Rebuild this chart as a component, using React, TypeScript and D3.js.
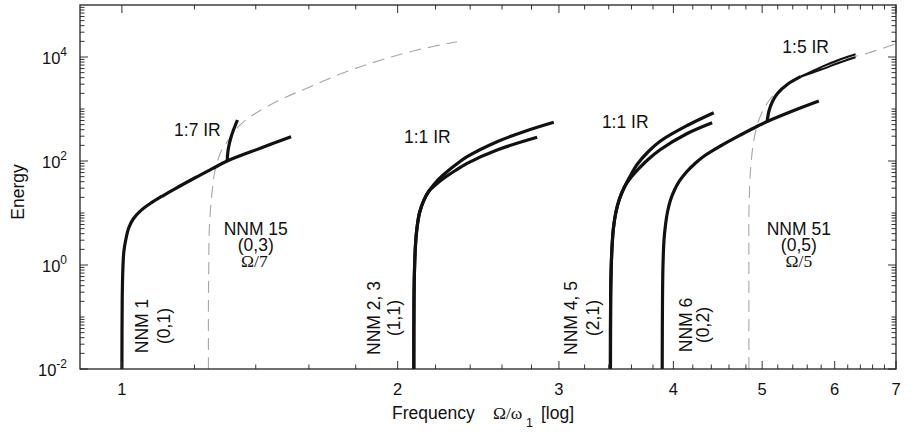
import React from 'react';
import * as d3 from 'd3';

type Pt = [number, number];

// ---- data (frequency Ω/ω1, energy) ----
const nnm1: Pt[] = [[1.0, 0.01], [1.00075, 0.212], [1.0023, 0.801], [1.0048, 1.778], [1.0096, 3.02], [1.0172, 5.15], [1.0288, 7.67], [1.0471, 10.9], [1.0737, 15.2], [1.1096, 21.7], [1.152, 31.6], [1.202, 47.7], [1.255, 71.1], [1.303, 100], [1.416, 176], [1.53, 293]];
const ir17: Pt[] = [[1.303, 100], [1.306, 163], [1.316, 293], [1.337, 614]];
const nnm15Dashed: Pt[] = [[1.243, 0.01], [1.243, 0.21], [1.244, 1], [1.246, 5.45], [1.254, 23.9], [1.264, 67], [1.285, 163], [1.307, 253], [1.34, 457], [1.381, 711], [1.44, 1107], [1.514, 1726], [1.606, 2685], [1.702, 4180], [1.821, 6506], [1.947, 9440], [2.1, 13630], [2.322, 19700]];
const nnm23Upper: Pt[] = [[2.0829, 0.01], [2.0839, 0.212], [2.0865, 0.801], [2.0917, 2.424], [2.0996, 5.146], [2.1128, 10], [2.1342, 17.0], [2.1639, 26.5], [2.2052, 40.3], [2.2557, 58.8], [2.3122, 83.8], [2.3816, 121], [2.5679, 235], [2.7459, 366], [2.961, 555]];
const nnm23Lower: Pt[] = [[2.0829, 0.01], [2.0839, 0.212], [2.0865, 0.801], [2.0917, 2.424], [2.0996, 5.146], [2.1128, 10], [2.1342, 17.0], [2.1639, 26.5], [2.2052, 36.1], [2.2557, 49.2], [2.3122, 65.7], [2.3816, 90.3], [2.5679, 163], [2.8401, 286]];
const nnm45Upper: Pt[] = [[3.4146, 0.01], [3.4163, 0.212], [3.4206, 0.801], [3.4292, 2.424], [3.4405, 5.146], [3.4622, 10.45], [3.4928, 18.6], [3.537, 31.6], [3.5909, 52.6], [3.6548, 87.6], [3.7478, 145.7], [3.8724, 242.4], [4.1413, 481.6], [4.4272, 848.8]];
const nnm45Lower: Pt[] = [[3.4146, 0.01], [3.4163, 0.212], [3.4206, 0.801], [3.4292, 2.424], [3.4405, 5.146], [3.4622, 10.45], [3.4928, 18.6], [3.537, 31.6], [3.5909, 47.1], [3.6548, 67.1], [3.7478, 104.5], [3.8724, 166.4], [4.1413, 338], [4.4094, 545]];
const nnm6: Pt[] = [[3.8891, 0.01], [3.892, 0.212], [3.8969, 1], [3.9067, 3.02], [3.9215, 5.878], [3.9412, 10.45], [3.9711, 17.78], [4.0113, 27.7], [4.062, 41.3], [4.1339, 61.4], [4.218, 87.6], [4.3146, 122], [4.5025, 194.3], [4.7347, 316], [4.9576, 481.6], [5.0634, 575], [5.4148, 936], [5.7658, 1425]];
const ir15: Pt[] = [[5.0634, 575], [5.0864, 915], [5.1313, 1394], [5.1962, 1987], [5.3258, 2959], [5.5067, 4180]];
const ir15TailUpper: Pt[] = [[5.5067, 4180], [5.7904, 6338], [6.0892, 9032], [6.3232, 11270]];
const ir15TailLower: Pt[] = [[5.5067, 4180], [5.7904, 5673], [6.0892, 7910], [6.3232, 9868]];
const nnm51Dashed: Pt[] = [[4.836, 0.01], [4.836, 1], [4.837, 10.6], [4.856, 67], [4.897, 253], [4.959, 614], [5.064, 1288], [5.193, 2152], [5.506, 4180], [5.789, 6066], [6.088, 8490], [6.51, 11780], [6.99, 17800]];

// ---- ticks ----
const xMajorTicks = [1, 2, 3, 4, 5, 6, 7];
const xTickLabels = ['1', '2', '3', '4', '5', '6', '7'];
const yLabelExponents = [-2, 0, 2, 4];
const yLabelTexts = ['-2', '0', '2', '4'];

const SANS = 'Liberation Sans, Arial, Helvetica, sans-serif';
const SERIF = 'Liberation Serif, Times New Roman, serif';

export default function App() {
  const W = 914, H = 432;
  const L = 80, R = 896, T = 5, B = 369;
  const x = d3.scaleLog().domain([0.9, 7]).range([L, R]);
  const y = d3.scaleLog().domain([0.01, 1e5]).range([B, T]);
  const line = d3.line<Pt>().x(d => x(d[0])).y(d => y(d[1])).curve(d3.curveCatmullRom.alpha(0.5));

  const xMinor = d3.range(12, 70, 2).map(v => v / 10).filter(v => Math.abs(v - Math.round(v)) > 1e-6);
  const yTicks: { v: number; major: boolean }[] = [];
  for (let n = -2; n <= 4; n++) {
    for (let k = 1; k <= 9; k++) {
      yTicks.push({ v: k * Math.pow(10, n), major: k === 1 && n % 2 === 0 });
    }
  }
  const MAJ = 8, MIN = 4.5;
  const tickColor = '#333';

  const solid = [
    { d: nnm1, w: 3.2 }, { d: ir17, w: 3.2 },
    { d: nnm23Upper, w: 3.2 }, { d: nnm23Lower, w: 3.2 },
    { d: nnm45Upper, w: 3.2 }, { d: nnm45Lower, w: 3.2 },
    { d: nnm6, w: 3.2 }, { d: ir15, w: 3.2 },
    { d: ir15TailUpper, w: 2 }, { d: ir15TailLower, w: 2 },
  ];

  const fs = 17.5;
  const rot = (f: number, e: number) => `translate(${x(f)},${y(e)}) rotate(-90)`;

  return (
    <svg width={W} height={H} style={{ position: 'absolute', left: 0, top: 0, background: '#fff' }} fontFamily={SANS}>
      <defs>
        <clipPath id="plot"><rect x={L} y={T} width={R - L} height={B - T} /></clipPath>
      </defs>
      <rect x={0} y={0} width={W} height={H} fill="#fff" />

      {/* dashed curves */}
      <g clipPath="url(#plot)" fill="none" stroke="#a6a6a6" strokeWidth={1.1} strokeDasharray="12,7">
        <path d={line(nnm15Dashed) || ''} />
        <path d={line(nnm51Dashed) || ''} />
      </g>

      {/* solid curves */}
      <g clipPath="url(#plot)" fill="none" stroke="#111">
        {solid.map((s, i) => <path key={i} d={line(s.d) || ''} strokeWidth={s.w} />)}
      </g>

      {/* ticks */}
      <g stroke={tickColor} strokeWidth={1}>
        {xMajorTicks.map(v => (
          <g key={'xm' + v}>
            <line x1={x(v)} x2={x(v)} y1={B} y2={B - MAJ} />
            <line x1={x(v)} x2={x(v)} y1={T} y2={T + MAJ} />
          </g>
        ))}
        {xMinor.map(v => (
          <g key={'xn' + v}>
            <line x1={x(v)} x2={x(v)} y1={B} y2={B - MIN} />
            <line x1={x(v)} x2={x(v)} y1={T} y2={T + MIN} />
          </g>
        ))}
        {yTicks.map((t, i) => {
          const len = t.major ? MAJ : MIN;
          return (
            <g key={'y' + i}>
              <line x1={L} x2={L + len} y1={y(t.v)} y2={y(t.v)} />
              <line x1={R} x2={R - len} y1={y(t.v)} y2={y(t.v)} />
            </g>
          );
        })}
      </g>

      {/* frame */}
      <rect x={L} y={T} width={R - L} height={B - T} fill="none" stroke="#222" strokeWidth={1.3} />

      {/* x tick labels */}
      <g fontSize={16.5} fill="#111" textAnchor="middle">
        {xMajorTicks.map((v, i) => (
          <text key={'xl' + v} x={x(v)} y={B + 26}>{xTickLabels[i]}</text>
        ))}
      </g>

      {/* y tick labels */}
      <g fill="#111" textAnchor="end">
        {yLabelExponents.map((e, i) => (
          <text key={'yl' + e} x={67} y={y(Math.pow(10, e)) + 7} fontSize={16.5}>
            10<tspan fontSize={12} dy={-8}>{yLabelTexts[i]}</tspan>
          </text>
        ))}
      </g>

      {/* axis titles */}
      <text transform={`translate(24,${(T + B) / 2 + 5}) rotate(-90)`} textAnchor="middle" fontSize={fs} fill="#111">Energy</text>
      <text x={392} y={419} fontSize={fs} fill="#111">Frequency</text>
      <text x={493} y={419} fontSize={fs} fill="#111" fontFamily={SERIF}>Ω/ω</text>
      <text x={526} y={427} fontSize={12.5} fill="#111">1</text>
      <text x={541} y={419} fontSize={fs} fill="#111">[log]</text>

      {/* annotations */}
      <g fontSize={fs} fill="#111">
        <text x={x(1.14)} y={y(300)}>1:7 IR</text>
        <text x={x(2.032)} y={y(219)}>1:1 IR</text>
        <text x={x(3.342)} y={y(425)}>1:1 IR</text>
        <text x={x(5.26)} y={y(11780)}>1:5 IR</text>

        <g textAnchor="middle">
          <text x={x(1.40)} y={y(3.78)}>NNM 15</text>
          <text x={x(1.40)} y={y(3.78) + 15.7}>(0,3)</text>
          <text x={x(1.395)} y={y(3.78) + 31.7} fontFamily={SERIF}>Ω/7</text>

          <text x={x(5.483)} y={y(3.78)}>NNM 51</text>
          <text x={x(5.483)} y={y(3.78) + 15.7}>(0,5)</text>
          <text x={x(5.483)} y={y(3.78) + 31.7} fontFamily={SERIF}>Ω/5</text>

          <text transform={rot(1.068, 0.067)}>NNM 1</text>
          <text transform={rot(1.129, 0.067)}>(0,1)</text>

          <text transform={rot(1.915, 0.0957)}>NNM 2, 3</text>
          <text transform={rot(2.012, 0.0957)}>(1,1)</text>

          <text transform={rot(3.139, 0.0957)}>NNM 4, 5</text>
          <text transform={rot(3.317, 0.0957)}>(2,1)</text>

          <text transform={rot(4.194, 0.0702)}>NNM 6</text>
          <text transform={rot(4.379, 0.0702)}>(0,2)</text>
        </g>
      </g>
    </svg>
  );
}
